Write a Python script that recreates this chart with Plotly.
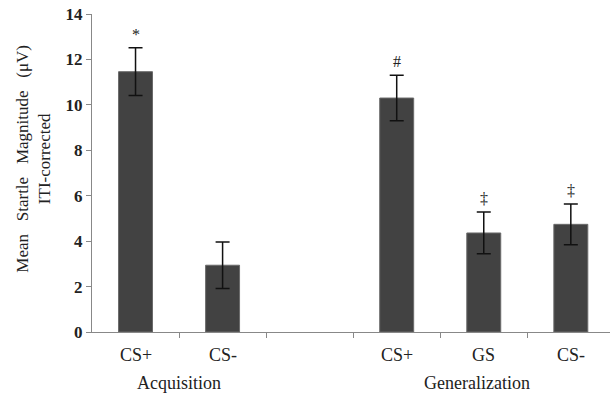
import plotly.graph_objects as go

positions = [0, 1, 3, 4, 5]
labels = ["CS+", "CS-", "CS+", "GS", "CS-"]
means = [11.46, 2.94, 10.3, 4.36, 4.74]
errors = [1.05, 1.02, 1.0, 0.92, 0.9]
markers = ["*", "", "#", "\u2021", "\u2021"]
groups = ["Acquisition", "Generalization"]
group_pos = [0.5, 3.92]
y_ticks = [0, 2, 4, 6, 8, 10, 12, 14]
boundaries = [0.5, 1.5, 2.5, 3.5, 4.5]
y_title = ["Mean", "Startle", "Magnitude", "(\u03bcV)"]
y_title2 = "ITI-corrected"

FONT = "Liberation Serif"
SP = "\u00a0\u00a0\u00a0"

fig = go.Figure()
fig.add_trace(go.Bar(
    x=positions, y=means, width=0.39,
    marker=dict(color="#424242", line=dict(color="#6a6a6a", width=1)),
    error_y=dict(type="data", array=errors, visible=True, color="#111111",
                 thickness=1.5, width=7),
    showlegend=False,
))

annotations = []
for x, y, e, m in zip(positions, means, errors, markers):
    if m:
        annotations.append(dict(x=x, y=y + e, text=m, showarrow=False,
                                yanchor="bottom", yshift=3,
                                font=dict(family=FONT, size=16, color="#222")))
for x, l in zip(positions, labels):
    annotations.append(dict(x=x, y=0, text=l, showarrow=False, yanchor="top",
                            yshift=-11, font=dict(family=FONT, size=18, color="#222")))
for x, g in zip(group_pos, groups):
    annotations.append(dict(x=x, y=0, text=g, showarrow=False, yanchor="top",
                            yshift=-39, font=dict(family=FONT, size=18, color="#222")))
annotations.append(dict(xref="paper", yref="paper", x=0, y=0.545, xshift=-58,
                        xanchor="center", yanchor="middle", textangle=-90,
                        showarrow=False,
                        text=SP.join(y_title) + "<br>" + y_title2,
                        font=dict(family=FONT, size=17, color="#222")))

fig.update_layout(
    width=610, height=397,
    margin=dict(l=92, r=0, t=14, b=65),
    plot_bgcolor="white", paper_bgcolor="white",
    annotations=annotations,
    xaxis=dict(range=[-0.5, 5.45], tickvals=boundaries, ticktext=[""] * len(boundaries),
               ticks="outside", ticklen=5, tickcolor="#888", showgrid=False,
               showline=True, linecolor="#888", linewidth=1, zeroline=False),
    yaxis=dict(range=[0, 14], tickvals=y_ticks, ticks="outside", ticklen=5,
               tickcolor="#888", showgrid=False, showline=True, linecolor="#888",
               linewidth=1, zeroline=False,
               tickfont=dict(family=FONT, size=17, color="#222", weight="bold")),
)

fig.write_html("out.html")
